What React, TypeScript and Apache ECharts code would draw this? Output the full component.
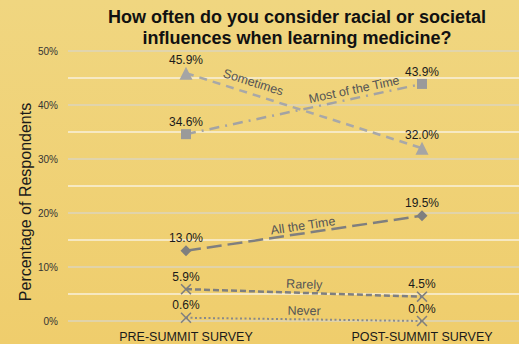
import React, { useEffect, useRef } from "react";
import * as echarts from "echarts";

const surveys = ["PRE-SUMMIT SURVEY", "POST-SUMMIT SURVEY"];
const sometimes = [45.9, 32.0];
const mostOfTheTime = [34.6, 43.9];
const allTheTime = [13.0, 19.5];
const rarely = [5.9, 4.5];
const never = [0.6, 0.0];
const yTicks = [0, 10, 20, 30, 40, 50];

const FONT = "'Liberation Sans', Arial, sans-serif";
const XMARK = "path://M0,1L1,0L5,4L9,0L10,1L6,5L10,9L9,10L5,6L1,10L0,9L4,5Z";

function seriesFor(
  name: string,
  values: number[],
  opts: { color: string; markerColor: string; dash: number[]; width: number; symbol: string; size: number; t: number; dist: number }
) {
  const pts = values.map((v, i) => [i, v]);
  const at = (x: number) => values[0] + (values[1] - values[0]) * x;
  const a = opts.t - 0.12;
  const b = opts.t + 0.12;
  return {
    type: "line",
    name,
    data: pts,
    symbol: opts.symbol,
    symbolSize: opts.size,
    lineStyle: { color: opts.color, width: opts.width, type: opts.dash, cap: "butt" },
    itemStyle: { color: opts.markerColor },
    label: {
      show: true,
      position: "top",
      distance: 1,
      color: "#1a1a1a",
      fontSize: 12,
      fontFamily: FONT,
      formatter: (p: any) => p.value[1].toFixed(1) + "%",
    },
    markLine: {
      silent: true,
      symbol: "none",
      lineStyle: { color: "rgba(0,0,0,0)", width: 0 },
      label: {
        show: true,
        position: "insideMiddleTop",
        distance: opts.dist,
        formatter: name,
        color: "#555555",
        fontSize: 12.5,
        fontFamily: FONT,
      },
      data: [[{ coord: [a, at(a)] }, { coord: [b, at(b)] }]],
    },
    z: 3,
  };
}

export default function App() {
  const ref = useRef<HTMLDivElement>(null);
  useEffect(() => {
    if (!ref.current) return;
    const chart = echarts.init(ref.current, null, { renderer: "svg" });
    chart.setOption({
      animation: false,
      backgroundColor: {
        type: "linear",
        x: 0,
        y: 0,
        x2: 0,
        y2: 1,
        colorStops: [
          { offset: 0, color: "#f0d680" },
          { offset: 1, color: "#efcd6c" },
        ],
      },
      title: {
        text: "How often do you consider racial or societal\ninfluences when learning medicine?",
        left: 292,
        top: 1,
        textAlign: "center",
        textStyle: { fontFamily: FONT, fontWeight: "bold", fontSize: 18, lineHeight: 21, color: "#111" },
      },
      grid: { left: 68, right: -21, top: 51, bottom: 23, containLabel: false, outerBoundsMode: "none" },
      xAxis: {
        type: "value",
        min: -0.5,
        max: 1.5,
        interval: 0.5,
        axisLine: { show: false },
        axisTick: { show: false },
        splitLine: { show: false },
        axisLabel: {
          margin: 9,
          color: "#1a1a1a",
          fontSize: 12.5,
          fontFamily: FONT,
          formatter: (v: number) => (Number.isInteger(v) && surveys[v] ? surveys[v] : ""),
        },
      },
      yAxis: {
        type: "value",
        min: 0,
        max: 50,
        interval: 5,
        axisLine: { show: false },
        axisTick: { show: false },
        splitLine: { lineStyle: { color: ["#ddd5bd", "#f8f0dc"], width: 1.5 } },
        axisLabel: {
          margin: 10,
          color: "#333",
          fontSize: 10,
          fontFamily: FONT,
          formatter: (v: number) => (yTicks.includes(v) ? v + "%" : ""),
        },
      },
      graphic: [
        {
          type: "text",
          x: 25,
          y: 202,
          rotation: Math.PI / 2,
          style: {
            text: "Percentage of Respondents",
            fontSize: 16,
            fontFamily: FONT,
            fill: "#1a1a1a",
            textAlign: "center",
            textVerticalAlign: "middle",
          },
        },
      ],
      series: [
        seriesFor("Sometimes", sometimes, { color: "#a8a8a8", markerColor: "#a5a5a5", dash: [8, 6], width: 2.5, symbol: "triangle", size: 13, t: 0.27, dist: 5 }),
        seriesFor("Most of the Time", mostOfTheTime, { color: "#a3a3a3", markerColor: "#9a9a9a", dash: [10, 6, 2, 6], width: 2.5, symbol: "rect", size: 10, t: 0.72, dist: 2 }),
        seriesFor("All the Time", allTheTime, { color: "#7f7f7f", markerColor: "#7f7f7f", dash: [15, 6], width: 2.5, symbol: "diamond", size: 11, t: 0.5, dist: 1 }),
        seriesFor("Rarely", rarely, { color: "#7f7f7f", markerColor: "#7f7f7f", dash: [6, 3], width: 2.5, symbol: XMARK, size: 11, t: 0.5, dist: 2 }),
        seriesFor("Never", never, { color: "#8a8a8a", markerColor: "#808080", dash: [2, 2.5], width: 2, symbol: XMARK, size: 11, t: 0.5, dist: 2 }),
      ],
    });
    return () => chart.dispose();
  }, []);
  return <div ref={ref} style={{ position: "fixed", left: 0, top: 0, width: 519, height: 344 }} />;
}
